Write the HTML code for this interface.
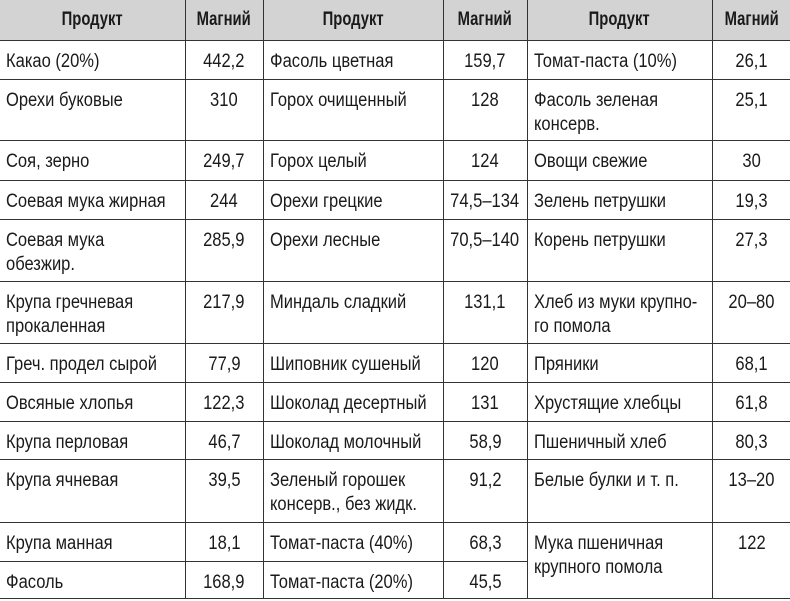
<!DOCTYPE html>
<html><head><meta charset="utf-8"><style>
html,body{margin:0;padding:0;background:#fff;}
body{width:790px;height:601px;overflow:hidden;}
table{border-collapse:collapse;table-layout:fixed;position:absolute;left:0;top:0;width:791px;}
td,th{border:1.5px solid #333;padding:9px 0 0 6px;vertical-align:top;font-family:"Liberation Sans",sans-serif;font-size:19px;line-height:24px;color:#1a1a1a;overflow:visible;white-space:nowrap;}
th{background:#d3d3d3;text-align:center;font-weight:bold;padding:8px 0 0 0;font-size:19px;}
td.n{text-align:center;padding-left:0;}
tr:first-child th{border-top:none;}
td:first-child,th:first-child{border-left:none;}
span{display:inline-block;transform:scaleX(.87);transform-origin:left top;}
td.n span,th span{transform-origin:center top;}
th span{transform:scaleX(.78);}
</style></head><body>
<table>
<colgroup><col style="width:185px"><col style="width:78px"><col style="width:180px"><col style="width:84px"><col style="width:185px"><col style="width:79px"></colgroup>
<tr style="height:40px"><th><span>Продукт</span></th><th><span>Магний</span></th><th><span>Продукт</span></th><th><span>Магний</span></th><th><span>Продукт</span></th><th><span>Магний</span></th></tr>
<tr style="height:39px"><td><span>Какао (20%)</span></td><td class="n"><span>442,2</span></td><td><span>Фасоль цветная</span></td><td class="n"><span>159,7</span></td><td><span>Томат-паста (10%)</span></td><td class="n"><span>26,1</span></td></tr>
<tr style="height:61px"><td><span>Орехи буковые</span></td><td class="n"><span>310</span></td><td><span>Горох очищенный</span></td><td class="n"><span>128</span></td><td><span>Фасоль зеленая<br>консерв.</span></td><td class="n"><span>25,1</span></td></tr>
<tr style="height:40px"><td><span>Соя, зерно</span></td><td class="n"><span>249,7</span></td><td><span>Горох целый</span></td><td class="n"><span>124</span></td><td><span>Овощи свежие</span></td><td class="n"><span>30</span></td></tr>
<tr style="height:39px"><td><span>Соевая мука жирная</span></td><td class="n"><span>244</span></td><td><span>Орехи грецкие</span></td><td class="n"><span>74,5–134</span></td><td><span>Зелень петрушки</span></td><td class="n"><span>19,3</span></td></tr>
<tr style="height:62px"><td><span>Соевая мука<br>обезжир.</span></td><td class="n"><span>285,9</span></td><td><span>Орехи лесные</span></td><td class="n"><span>70,5–140</span></td><td><span>Корень петрушки</span></td><td class="n"><span>27,3</span></td></tr>
<tr style="height:62px"><td><span>Крупа гречневая<br>прокаленная</span></td><td class="n"><span>217,9</span></td><td><span>Миндаль сладкий</span></td><td class="n"><span>131,1</span></td><td><span>Хлеб из муки крупно-<br>го помола</span></td><td class="n"><span>20–80</span></td></tr>
<tr style="height:39px"><td><span>Греч. продел сырой</span></td><td class="n"><span>77,9</span></td><td><span>Шиповник сушеный</span></td><td class="n"><span>120</span></td><td><span>Пряники</span></td><td class="n"><span>68,1</span></td></tr>
<tr style="height:39px"><td><span>Овсяные хлопья</span></td><td class="n"><span>122,3</span></td><td><span>Шоколад десертный</span></td><td class="n"><span>131</span></td><td><span>Хрустящие хлебцы</span></td><td class="n"><span>61,8</span></td></tr>
<tr style="height:38px"><td><span>Крупа перловая</span></td><td class="n"><span>46,7</span></td><td><span>Шоколад молочный</span></td><td class="n"><span>58,9</span></td><td><span>Пшеничный хлеб</span></td><td class="n"><span>80,3</span></td></tr>
<tr style="height:63px"><td><span>Крупа ячневая</span></td><td class="n"><span>39,5</span></td><td><span>Зеленый горошек<br>консерв., без жидк.</span></td><td class="n"><span>91,2</span></td><td><span>Белые булки и т. п.</span></td><td class="n"><span>13–20</span></td></tr>
<tr style="height:39px"><td><span>Крупа манная</span></td><td class="n"><span>18,1</span></td><td><span>Томат-паста (40%)</span></td><td class="n"><span>68,3</span></td><td rowspan="2"><span>Мука пшеничная<br>крупного помола</span></td><td rowspan="2" class="n"><span>122</span></td></tr>
<tr style="height:37px"><td><span>Фасоль</span></td><td class="n"><span>168,9</span></td><td><span>Томат-паста (20%)</span></td><td class="n"><span>45,5</span></td></tr>
</table>
</body></html>
